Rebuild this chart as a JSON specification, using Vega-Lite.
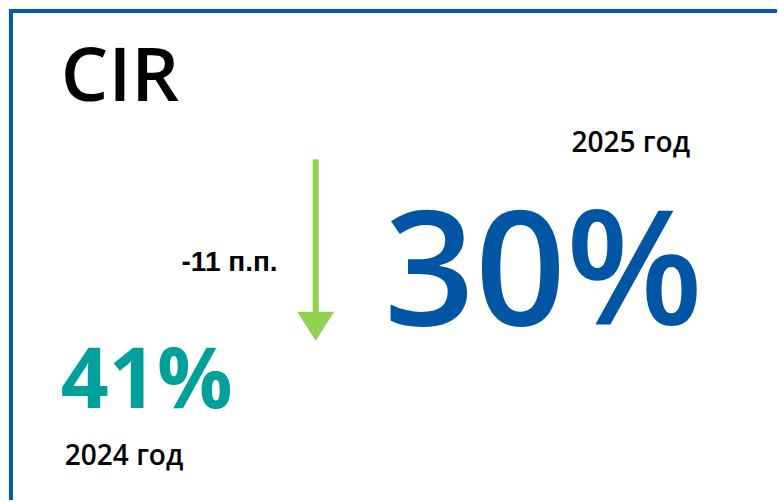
{
  "$schema": "https://vega.github.io/schema/vega-lite/v6.json",
  "autosize": {"type": "fit", "contains": "padding"},
  "width": 779,
  "height": 502,
  "padding": 0,
  "background": "white",
  "view": {"stroke": null},
  "config": {"axis": {"disable": true}},
  "datasets": {
    "cir": [
      {"metric": "CIR", "period": "2024 год", "value": 41},
      {"metric": "CIR", "period": "2025 год", "value": 30}
    ],
    "change": [{"delta": -11, "unit": "п.п."}]
  },
  "data": {"name": "cir"},
  "layer": [
    {
      "mark": {"type": "rule", "color": "#005BAA", "strokeWidth": 4},
      "encoding": {
        "x": {"datum": 9, "type": "quantitative", "scale": {"domain": [0, 779], "nice": false, "zero": false}, "axis": null},
        "x2": {"datum": 779},
        "y": {"datum": 11, "type": "quantitative", "scale": {"domain": [0, 502], "nice": false, "zero": false, "reverse": true}, "axis": null}
      }
    },
    {
      "mark": {"type": "rule", "color": "#005BAA", "strokeWidth": 4},
      "encoding": {
        "x": {"datum": 11, "type": "quantitative"},
        "y": {"datum": 9, "type": "quantitative"},
        "y2": {"datum": 502}
      }
    },
    {
      "transform": [{"filter": "datum.period === '2024 год'"}],
      "mark": {"type": "text", "font": "Open Sans", "fontWeight": 600, "fontSize": 75, "color": "#000000", "align": "left", "baseline": "alphabetic"},
      "encoding": {
        "x": {"datum": 61, "type": "quantitative"},
        "y": {"datum": 101, "type": "quantitative"},
        "text": {"field": "metric"}
      }
    },
    {
      "transform": [{"filter": "datum.period === '2025 год'"}],
      "mark": {"type": "text", "font": "Open Sans", "fontWeight": 600, "fontSize": 28, "color": "#000000", "align": "left", "baseline": "alphabetic"},
      "encoding": {
        "x": {"datum": 573, "type": "quantitative"},
        "y": {"datum": 153, "type": "quantitative"},
        "text": {"field": "period"}
      }
    },
    {
      "transform": [{"filter": "datum.period === '2025 год'"}, {"calculate": "datum.value + '%'", "as": "label"}],
      "mark": {"type": "text", "font": "Open Sans", "fontWeight": 600, "fontSize": 159, "color": "#0055A5", "align": "left", "baseline": "alphabetic"},
      "encoding": {
        "x": {"datum": 385, "type": "quantitative"},
        "y": {"datum": 326, "type": "quantitative"},
        "text": {"field": "label"}
      }
    },
    {
      "transform": [{"filter": "datum.period === '2024 год'"}, {"calculate": "datum.value + '%'", "as": "label"}],
      "mark": {"type": "text", "font": "Open Sans", "fontWeight": "bold", "fontSize": 84, "color": "#00A19A", "align": "left", "baseline": "alphabetic"},
      "encoding": {
        "x": {"datum": 61, "type": "quantitative"},
        "y": {"datum": 410, "type": "quantitative"},
        "text": {"field": "label"}
      }
    },
    {
      "transform": [{"filter": "datum.period === '2024 год'"}],
      "mark": {"type": "text", "font": "Open Sans", "fontWeight": 600, "fontSize": 28, "color": "#000000", "align": "left", "baseline": "alphabetic"},
      "encoding": {
        "x": {"datum": 65, "type": "quantitative"},
        "y": {"datum": 467, "type": "quantitative"},
        "text": {"field": "period"}
      }
    },
    {
      "data": {"name": "change"},
      "transform": [{"calculate": "datum.delta + ' ' + datum.unit", "as": "label"}],
      "mark": {"type": "text", "font": "Liberation Sans", "fontWeight": "bold", "fontSize": 28, "color": "#000000", "align": "left", "baseline": "alphabetic"},
      "encoding": {
        "x": {"datum": 182, "type": "quantitative"},
        "y": {"datum": 272, "type": "quantitative"},
        "text": {"field": "label"}
      }
    },
    {
      "data": {"name": "change"},
      "mark": {"type": "rule", "color": "#92D050", "strokeWidth": 6},
      "encoding": {
        "x": {"datum": 316.5, "type": "quantitative"},
        "y": {"datum": 160, "type": "quantitative"},
        "y2": {"datum": 318}
      }
    },
    {
      "data": {"name": "change"},
      "mark": {"type": "point", "filled": true, "color": "#92D050", "opacity": 1, "shape": "M-1,-0.78L1,-0.78L0,0.78Z", "size": 1369},
      "encoding": {
        "x": {"datum": 316.5, "type": "quantitative"},
        "y": {"datum": 327.5, "type": "quantitative"}
      }
    }
  ]
}
